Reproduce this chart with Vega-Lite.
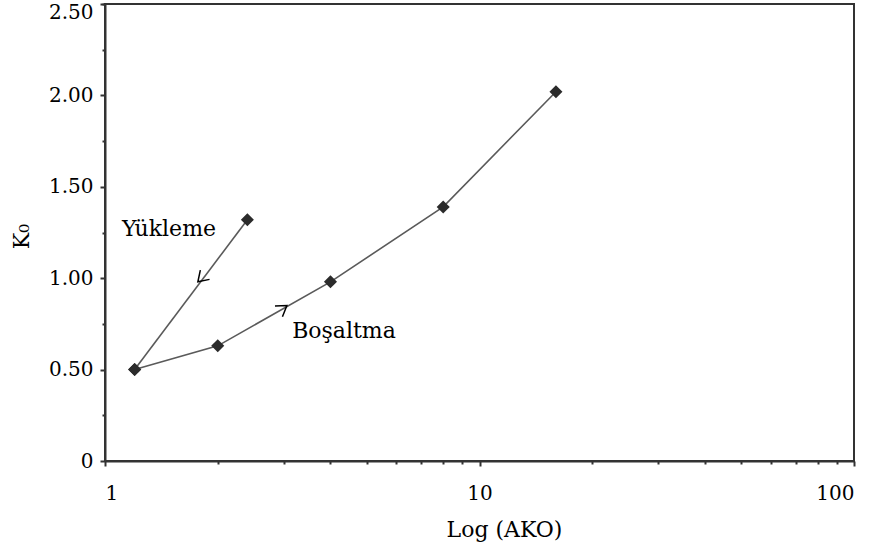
{
  "$schema": "https://vega.github.io/schema/vega-lite/v6.json",
  "width": 749,
  "height": 457,
  "autosize": "none",
  "padding": {"left": 105, "top": 4, "right": 18, "bottom": 85},
  "background": "white",
  "config": {
    "font": "DejaVu Serif",
    "view": {"stroke": "#333", "strokeWidth": 2},
    "axis": {
      "labelFont": "DejaVu Serif",
      "titleFont": "DejaVu Serif",
      "labelColor": "black",
      "titleColor": "black",
      "labelFontSize": 20,
      "titleFontSize": 22,
      "titleFontWeight": "normal",
      "domainColor": "#333",
      "domainWidth": 2,
      "tickColor": "#333",
      "tickWidth": 2,
      "grid": false
    }
  },
  "datasets": {
    "olcum": [
      {"seri": "Yükleme", "ako": 1.2, "k0": 0.5},
      {"seri": "Yükleme", "ako": 2.4, "k0": 1.32},
      {"seri": "Boşaltma", "ako": 1.2, "k0": 0.5},
      {"seri": "Boşaltma", "ako": 2, "k0": 0.63},
      {"seri": "Boşaltma", "ako": 4, "k0": 0.98},
      {"seri": "Boşaltma", "ako": 8, "k0": 1.39},
      {"seri": "Boşaltma", "ako": 16, "k0": 2.02}
    ],
    "etiket": [
      {"seri": "Yükleme", "ako": 1.11, "k0": 1.23},
      {"seri": "Boşaltma", "ako": 3.16, "k0": 0.673}
    ],
    "ok": [
      {"seri": "Yükleme", "ako": 1.77, "k0": 0.98},
      {"seri": "Boşaltma", "ako": 3.06, "k0": 0.85}
    ]
  },
  "resolve": {"axis": {"x": "independent", "y": "independent"}},
  "layer": [
    {
      "data": {"name": "olcum"},
      "mark": {"type": "line", "color": "#5a5a5a", "strokeWidth": 1.6},
      "encoding": {
        "x": {
          "field": "ako", "type": "quantitative",
          "scale": {"type": "log", "domain": [1, 100], "nice": false},
          "axis": {
            "orient": "bottom",
            "values": [1, 10, 100],
            "format": "d",
            "tickSize": 5,
            "labelPadding": 17,
            "title": "Log (AKO)",
            "titleX": 399,
            "titleY": 75,
            "titleAlign": "center",
            "titleBaseline": "alphabetic"
          }
        },
        "y": {
          "field": "k0", "type": "quantitative",
          "scale": {"domain": [0, 2.5], "nice": false, "zero": false},
          "axis": {
            "orient": "left",
            "values": [0, 0.5, 1, 1.5, 2, 2.5],
            "labelExpr": "datum.value == 0 ? '0' : datum.value == 2.5 ? '' : format(datum.value, '.2f')",
            "tickSize": 5,
            "labelPadding": 7,
            "title": "K₀",
            "titleAngle": -90,
            "titleX": -77,
            "titleY": 232,
            "titleAlign": "center",
            "titleBaseline": "alphabetic"
          }
        },
        "detail": {"field": "seri"},
        "order": {"field": "ako", "type": "quantitative"}
      }
    },
    {
      "data": {"name": "olcum"},
      "mark": {"type": "point", "shape": "diamond", "filled": true, "color": "#2b2b2b", "size": 170, "opacity": 1},
      "encoding": {
        "x": {
          "field": "ako", "type": "quantitative",
          "scale": {"type": "log", "domain": [1, 100], "nice": false},
          "axis": {
            "orient": "bottom",
            "values": [2, 3, 4, 5, 6, 7, 8, 9, 20, 30, 40, 50, 60, 70, 80, 90],
            "tickSize": 3,
            "labels": false,
            "domain": false,
            "title": null
          }
        },
        "y": {
          "field": "k0", "type": "quantitative",
          "scale": {"domain": [0, 2.5], "nice": false, "zero": false},
          "axis": {
            "orient": "left",
            "values": [0.25, 0.75, 1.25, 1.75, 2.25, 2.5],
            "labelExpr": "datum.value == 2.5 ? '2.50' : ''",
            "labelFlush": true,
            "labelFlushOffset": 2,
            "tickSize": 3,
            "labelPadding": 9,
            "domain": false,
            "title": null
          }
        }
      }
    },
    {
      "data": {"name": "ok"},
      "transform": [{"filter": "datum.seri == 'Yükleme'"}],
      "mark": {"type": "point", "shape": "M-1,-0.65L0,0L-1,0.65", "filled": false, "stroke": "black", "strokeWidth": 1.5, "size": 400, "angle": 135, "opacity": 1},
      "encoding": {
        "x": {"field": "ako", "type": "quantitative", "scale": {"type": "log", "domain": [1, 100], "nice": false}, "axis": null},
        "y": {"field": "k0", "type": "quantitative", "scale": {"domain": [0, 2.5], "nice": false, "zero": false}, "axis": null}
      }
    },
    {
      "data": {"name": "ok"},
      "transform": [{"filter": "datum.seri == 'Boşaltma'"}],
      "mark": {"type": "point", "shape": "M-1,-0.65L0,0L-1,0.65", "filled": false, "stroke": "black", "strokeWidth": 1.5, "size": 400, "angle": 325, "opacity": 1},
      "encoding": {
        "x": {"field": "ako", "type": "quantitative", "scale": {"type": "log", "domain": [1, 100], "nice": false}, "axis": null},
        "y": {"field": "k0", "type": "quantitative", "scale": {"domain": [0, 2.5], "nice": false, "zero": false}, "axis": null}
      }
    },
    {
      "data": {"name": "etiket"},
      "mark": {"type": "text", "align": "left", "baseline": "alphabetic", "font": "DejaVu Serif", "fontSize": 22, "color": "black"},
      "encoding": {
        "x": {"field": "ako", "type": "quantitative", "scale": {"type": "log", "domain": [1, 100], "nice": false}, "axis": null},
        "y": {"field": "k0", "type": "quantitative", "scale": {"domain": [0, 2.5], "nice": false, "zero": false}, "axis": null},
        "text": {"field": "seri"}
      }
    }
  ]
}
